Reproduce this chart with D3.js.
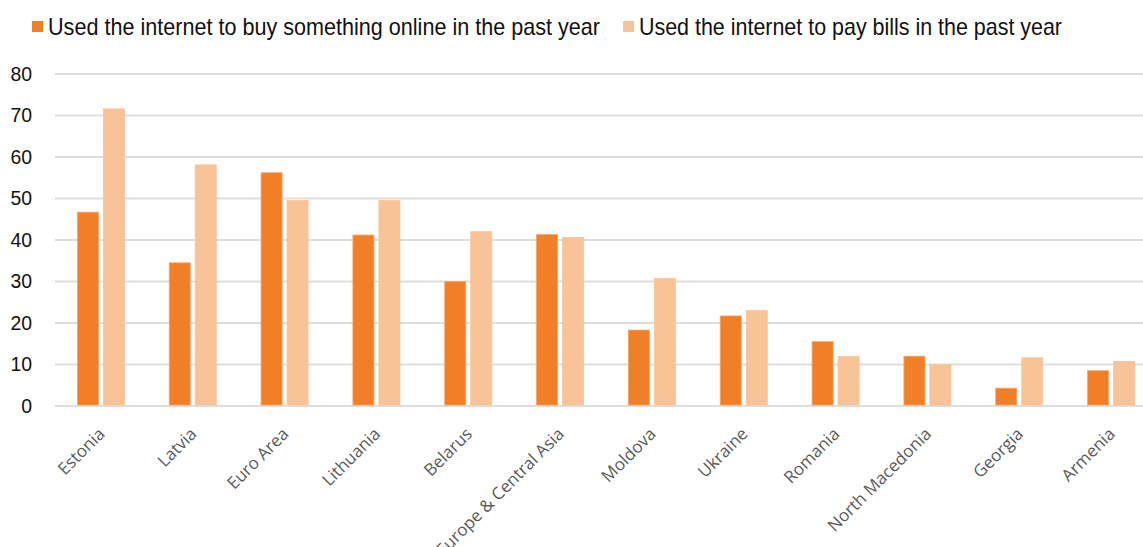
<!DOCTYPE html>
<html>
<head>
<meta charset="utf-8">
<script src="https://cdn.jsdelivr.net/npm/d3@7"></script>
<style>
  body { margin: 0; background: #fff; }
  .narrow { font-family: "Liberation Sans Narrow", "Arial Narrow", "Liberation Sans", sans-serif; }
</style>
</head>
<body>
<div id="chart"></div>
<script>
// chart data
var countries = ["Estonia", "Latvia", "Euro Area", "Lithuania", "Belarus", "Europe & Central Asia",
  "Moldova", "Ukraine", "Romania", "North Macedonia", "Georgia", "Armenia"];
var buyOnline = [46.7, 34.5, 56.2, 41.2, 30.0, 41.3, 18.3, 21.7, 15.5, 12.0, 4.3, 8.5];
var payBills = [71.6, 58.1, 49.5, 49.5, 42.0, 40.6, 30.7, 23.0, 11.9, 10.0, 11.6, 10.7];
var seriesNames = ["Used the internet to buy something online in the past year",
  "Used the internet to pay bills in the past year"];
var yTicks = [0, 10, 20, 30, 40, 50, 60, 70, 80];

var colors = ["#F07F27", "#F8C397"];
var strokes = ["#F6A466", "#F8C397"];

var svgWidth = 1143;
var svgHeight = 547;

var svg = d3.select("#chart")
  .append("svg")
  .attr("width", svgWidth)
  .attr("height", svgHeight);

// scales
var x0 = d3.scaleBand()
  .domain(countries)
  .range([55, 1157])
  .paddingInner(0.488)
  .paddingOuter(0.244);

var x1 = d3.scaleBand()
  .domain([0, 1])
  .range([0, x0.bandwidth()])
  .paddingInner(0.19);

var y = d3.scaleLinear()
  .domain([0, 80])
  .range([406, 74]);

// gridlines
svg.append("g")
  .selectAll("line")
  .data(yTicks)
  .enter()
  .append("line")
  .attr("x1", 55)
  .attr("x2", svgWidth)
  .attr("y1", d => y(d))
  .attr("y2", d => y(d))
  .attr("stroke", "#dedede")
  .attr("stroke-width", 2);

// y axis labels (condensed look via textLength)
var yAxis = svg.append("g")
  .attr("transform", "translate(32,0)")
  .call(d3.axisLeft(y).tickValues(yTicks).tickSize(0).tickPadding(0));
yAxis.select(".domain").remove();
yAxis.selectAll("text")
  .attr("class", "narrow")
  .attr("font-size", 20)
  .attr("fill", "#111")
  .attr("textLength", d => String(d).length * 10.8)
  .attr("lengthAdjust", "spacingAndGlyphs");

// bars
var rows = countries.map((c, i) => ({ country: c, values: [buyOnline[i], payBills[i]] }));

var groups = svg.append("g")
  .selectAll("g")
  .data(rows)
  .enter()
  .append("g")
  .attr("transform", d => `translate(${x0(d.country)},0)`);

groups.selectAll("rect")
  .data(d => d.values.map((v, k) => ({ k: k, v: v })))
  .enter()
  .append("rect")
  .attr("x", d => x1(d.k))
  .attr("width", x1.bandwidth())
  .attr("y", d => y(d.v))
  .attr("height", d => y(0) - y(d.v) - 1)
  .attr("fill", d => colors[d.k])
  .attr("stroke", d => strokes[d.k])
  .attr("stroke-width", 0.8);

// x axis labels, rotated
var xAxis = svg.append("g")
  .attr("transform", "translate(0,406)")
  .call(d3.axisBottom(x0).tickSize(0).tickPadding(0));
xAxis.select(".domain").remove();
xAxis.selectAll("text")
  .attr("y", 0)
  .attr("dy", 0)
  .attr("transform", "translate(5,29) rotate(-45)")
  .attr("text-anchor", "end")
  .attr("font-family", "'Open Sans', sans-serif")
  .attr("font-size", 17)
  .attr("fill", "#595959");

// legend
var legendX = [32, 623];
var legendLen = [552, 423];
var legend = svg.append("g")
  .selectAll("g")
  .data(seriesNames)
  .enter()
  .append("g")
  .attr("transform", (d, i) => `translate(${legendX[i]},0)`);

legend.append("rect")
  .attr("x", 0)
  .attr("y", 21)
  .attr("width", 11)
  .attr("height", 11)
  .attr("fill", (d, i) => colors[i]);

legend.append("text")
  .attr("class", "narrow")
  .attr("x", 16)
  .attr("y", 35)
  .attr("font-size", 24)
  .attr("fill", "#111")
  .attr("textLength", (d, i) => legendLen[i])
  .attr("lengthAdjust", "spacingAndGlyphs")
  .text(d => d);
</script>
</body>
</html>
